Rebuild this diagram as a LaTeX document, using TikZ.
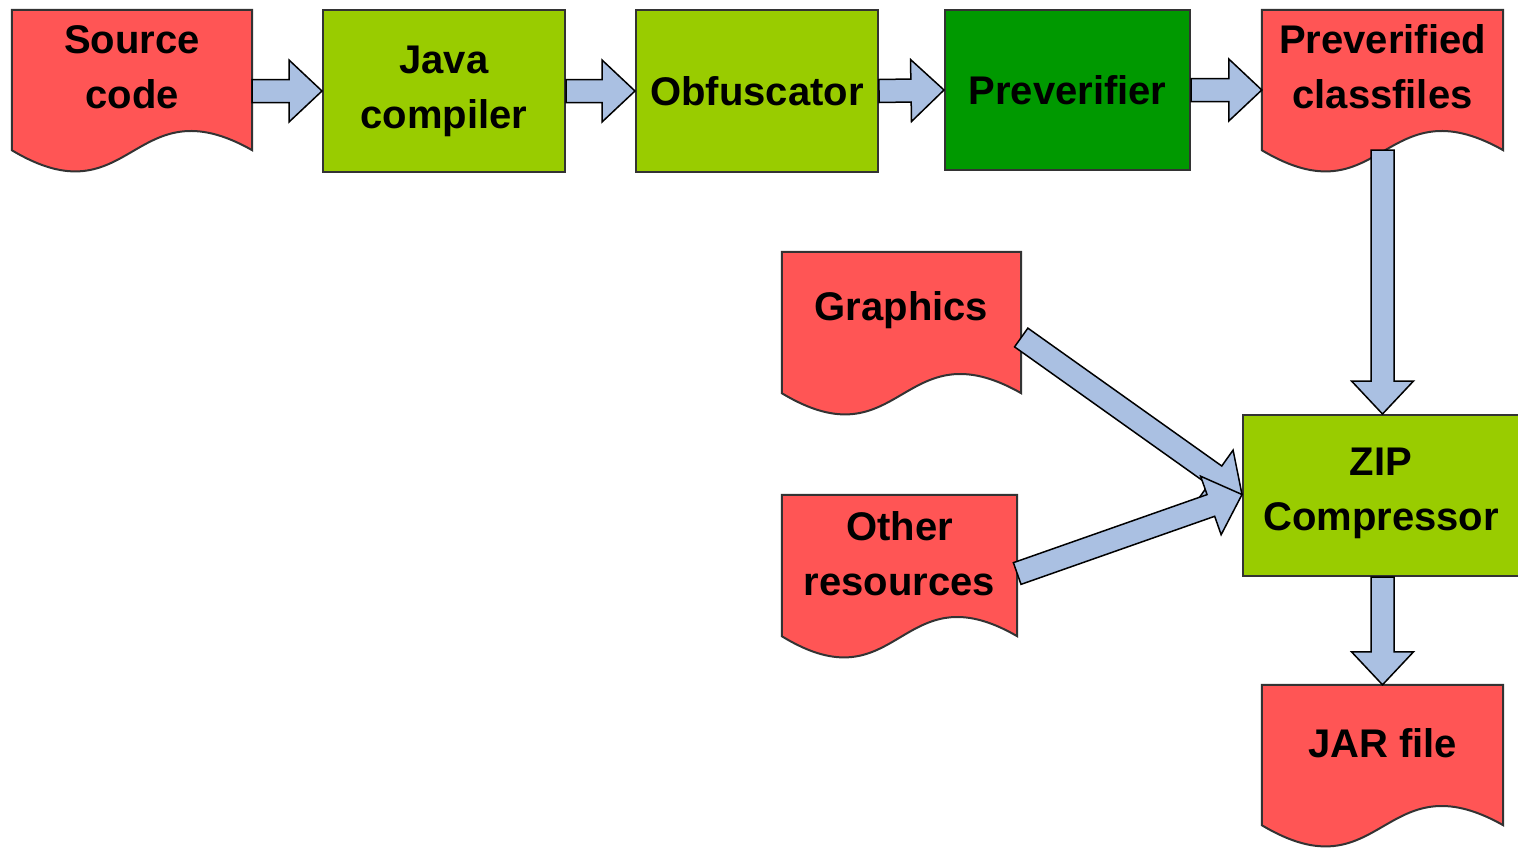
\documentclass[tikz,border=0pt]{standalone}
\usepackage{fontspec}
\setmainfont{Liberation Sans}
\usetikzlibrary{calc}
\definecolor{docred}{HTML}{FF5555}
\definecolor{lgreen}{HTML}{99CC00}
\definecolor{dgreen}{HTML}{009900}
\definecolor{arrblue}{HTML}{AAC0E2}
\definecolor{edge}{HTML}{333333}
\tikzset{
  box/.style={draw=edge, line width=2pt, inner sep=0pt, align=center,
    font=\fontsize{40}{55}\selectfont\bfseries},
  docbox/.style={inner sep=0pt},
  docfill/.style={draw=edge, line width=2pt, fill=docred},
  lbl/.style={inner sep=0pt, align=center, font=\fontsize{40}{55}\selectfont\bfseries},
  blockarr/.style={draw=black, line width=1.5pt, fill=arrblue, line join=miter}
}
\newcommand\docshape[1]{%
  \draw[docfill] (#1.north west) -- (#1.north east) -- (#1.south east)
    .. controls ($(#1.south)+(0,-68)$) and ($(#1.south)+(0,72)$) .. (#1.south west) -- cycle;}
\newcommand\barrow[2]{%
  \draw[blockarr] ($(#1)!11.5pt!90:(#2)$)
    -- ($($(#2)!33pt!(#1)$)!11.5pt!90:(#2)$)
    -- ($($(#2)!33pt!(#1)$)!31pt!90:(#2)$)
    -- (#2)
    -- ($($(#2)!33pt!(#1)$)!31pt!-90:(#2)$)
    -- ($($(#2)!33pt!(#1)$)!11.5pt!-90:(#2)$)
    -- ($(#1)!11.5pt!-90:(#2)$) -- cycle;}
\begin{document}
\begin{tikzpicture}[x=1pt,y=-1pt]
\useasboundingbox (0,0) rectangle (1518,847);
% document-shaped nodes
\node[docbox, minimum width=240pt, minimum height=140pt] (src) at (132,80) {};
\node[docbox, minimum width=241pt, minimum height=140pt] (cls) at (1382.5,80) {};
\node[docbox, minimum width=239pt, minimum height=141pt] (gfx) at (901.5,322.5) {};
\node[docbox, minimum width=235pt, minimum height=141pt] (oth) at (899.5,565.5) {};
\node[docbox, minimum width=241pt, minimum height=140pt] (jar) at (1382.5,755) {};
\docshape{src}\docshape{cls}\docshape{gfx}\docshape{oth}\docshape{jar}
\node[lbl] (srcT) at ([yshift=13pt]src.center) {Source\\code};
\node[lbl] (clsT) at ([yshift=13pt]cls.center) {Preverified\\classfiles};
\node[lbl] (gfxT) at ([yshift=12pt]gfx.center) {Graphics};
\node[lbl] (othT) at ([yshift=12pt]oth.center) {Other\\resources};
\node[lbl] (jarT) at ([yshift=12pt]jar.center) {JAR file};
% process boxes
\node[box, fill=lgreen, minimum width=242pt, minimum height=162pt] (java) at (444,91) {Java\\compiler};
\node[box, fill=lgreen, minimum width=242pt, minimum height=162pt] (obf) at (757,91) {Obfuscator};
\node[box, fill=dgreen, minimum width=245pt, minimum height=160pt] (prev) at (1067.5,90) {Preverifier};
\node[box, fill=lgreen, minimum width=282pt, minimum height=161pt] (zip) at (1384,495.5) {};
\node[lbl] (zipT) at (1381,493) {ZIP\\Compressor};
% connector end points
\coordinate (a1s) at (src.east |- java.west);
\coordinate (a4e) at (cls.west |- prev.east);
\coordinate (a5e) at (cls.south |- zip.north);
\coordinate (a6s) at (cls.south |- zip.south);
\coordinate (gfxout) at ([yshift=-15pt]gfx.east);
\coordinate (othout) at ([yshift=-8pt]oth.east);
\coordinate (zipin) at ([yshift=1pt]zip.west);
% arrows
\barrow{a1s}{java.west}
\barrow{java.east}{obf.west}
\barrow{obf.east}{prev.west}
\barrow{prev.east}{a4e}
\barrow{cls.south}{a5e}
\barrow{a6s}{jar.north}
\barrow{gfxout}{zipin}
\barrow{othout}{zipin}
\end{tikzpicture}
\end{document}
